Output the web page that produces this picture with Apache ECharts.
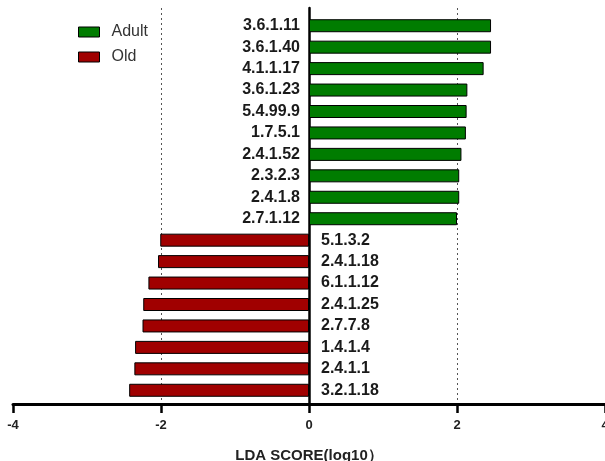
<!DOCTYPE html>
<html>
<head>
<meta charset="utf-8">
<script src="https://cdn.jsdelivr.net/npm/echarts@6/dist/echarts.min.js"></script>
<style>
  html, body { margin: 0; padding: 0; background: #fff; }
  #chart { width: 605px; height: 461px; }
</style>
</head>
<body>
<div id="chart"></div>
<script>
// enzyme categories, top to bottom
const categories = [
  '3.6.1.11', '3.6.1.40', '4.1.1.17', '3.6.1.23', '5.4.99.9',
  '1.7.5.1', '2.4.1.52', '2.3.2.3', '2.4.1.8', '2.7.1.12',
  '5.1.3.2', '2.4.1.18', '6.1.1.12', '2.4.1.25', '2.7.7.8',
  '1.4.1.4', '2.4.1.1', '3.2.1.18'
];
// LDA scores per group
const adultScores = [2.46, 2.46, 2.36, 2.14, 2.13, 2.12, 2.06, 2.03, 2.03, 2.00,
  '-', '-', '-', '-', '-', '-', '-', '-'];
const oldScores = ['-', '-', '-', '-', '-', '-', '-', '-', '-', '-',
  -2.01, -2.04, -2.17, -2.24, -2.25, -2.35, -2.36, -2.43];
const xTicks = [-4, -2, 0, 2, 4];

const FONT = '"Liberation Sans", Arial, sans-serif';

const chart = echarts.init(document.getElementById('chart'));

const option = {
  animation: false,
  backgroundColor: '#fff',
  legend: {
    data: ['Adult', 'Old'],
    orient: 'vertical',
    left: 78,
    top: 24,
    padding: 0,
    itemWidth: 21,
    itemHeight: 10,
    itemGap: 9,
    icon: 'rect',
    textStyle: { fontFamily: FONT, fontSize: 16, color: '#333', padding: [0, 0, 0, 7] },
    itemStyle: { borderColor: '#000', borderWidth: 1 },
  },
  grid: [
    // bars
    { left: 13, right: 0, top: 15, height: 386, outerBoundsMode: 'none' },
    // axes frame
    { left: 13, right: 0, top: 8, bottom: 57, outerBoundsMode: 'none' },
  ],
  xAxis: [
    {
      gridIndex: 0,
      type: 'value',
      min: xTicks[0],
      max: xTicks[xTicks.length - 1],
      interval: 2,
      show: false,
    },
    {
      gridIndex: 1,
      type: 'value',
      min: xTicks[0],
      max: xTicks[xTicks.length - 1],
      interval: 2,
      name: 'LDA SCORE(log10）',
      nameLocation: 'middle',
      nameGap: 44,
      nameTextStyle: { fontFamily: FONT, fontSize: 15, fontWeight: 'bold', color: '#222' },
      axisLine: { show: true, onZero: false, lineStyle: { color: '#000', width: 3 } },
      axisTick: { show: true, length: 9, lineStyle: { color: '#000', width: 2.5 } },
      axisLabel: {
        fontFamily: FONT, fontSize: 13, fontWeight: 'bold', color: '#222', margin: 15,
        showMinLabel: true, showMaxLabel: true,
      },
      splitLine: {
        show: true,
        showMinLine: false,
        showMaxLine: false,
        lineStyle: { color: '#555', width: 1, type: [2, 3] },
      },
    },
  ],
  yAxis: [
    {
      gridIndex: 0,
      type: 'category',
      inverse: true,
      data: categories,
      show: false,
    },
    {
      gridIndex: 1,
      type: 'value',
      min: 0,
      max: 1,
      axisLine: { show: true, onZero: true, lineStyle: { color: '#000', width: 2.5 } },
      axisTick: { show: false },
      axisLabel: { show: false },
      splitLine: { show: false },
    },
  ],
  series: [
    {
      name: 'Adult',
      type: 'bar',
      xAxisIndex: 0,
      yAxisIndex: 0,
      barWidth: 13,
      barGap: '-100%',
      data: adultScores,
      itemStyle: { color: '#007c00', borderColor: '#000', borderWidth: 1 },
      label: {
        show: true,
        position: 'left',
        distance: 9,
        formatter: (p) => p.name,
        fontFamily: FONT,
        fontSize: 16,
        fontWeight: 'bold',
        color: '#1a1a1a',
      },
      z: 3,
    },
    {
      name: 'Old',
      type: 'bar',
      xAxisIndex: 0,
      yAxisIndex: 0,
      barWidth: 13,
      barGap: '-100%',
      data: oldScores,
      itemStyle: { color: '#a00000', borderColor: '#000', borderWidth: 1 },
      label: {
        show: true,
        position: 'right',
        distance: 12,
        formatter: (p) => p.name,
        fontFamily: FONT,
        fontSize: 16,
        fontWeight: 'bold',
        color: '#1a1a1a',
      },
      z: 3,
    },
  ],
};

chart.setOption(option);
</script>
</body>
</html>
